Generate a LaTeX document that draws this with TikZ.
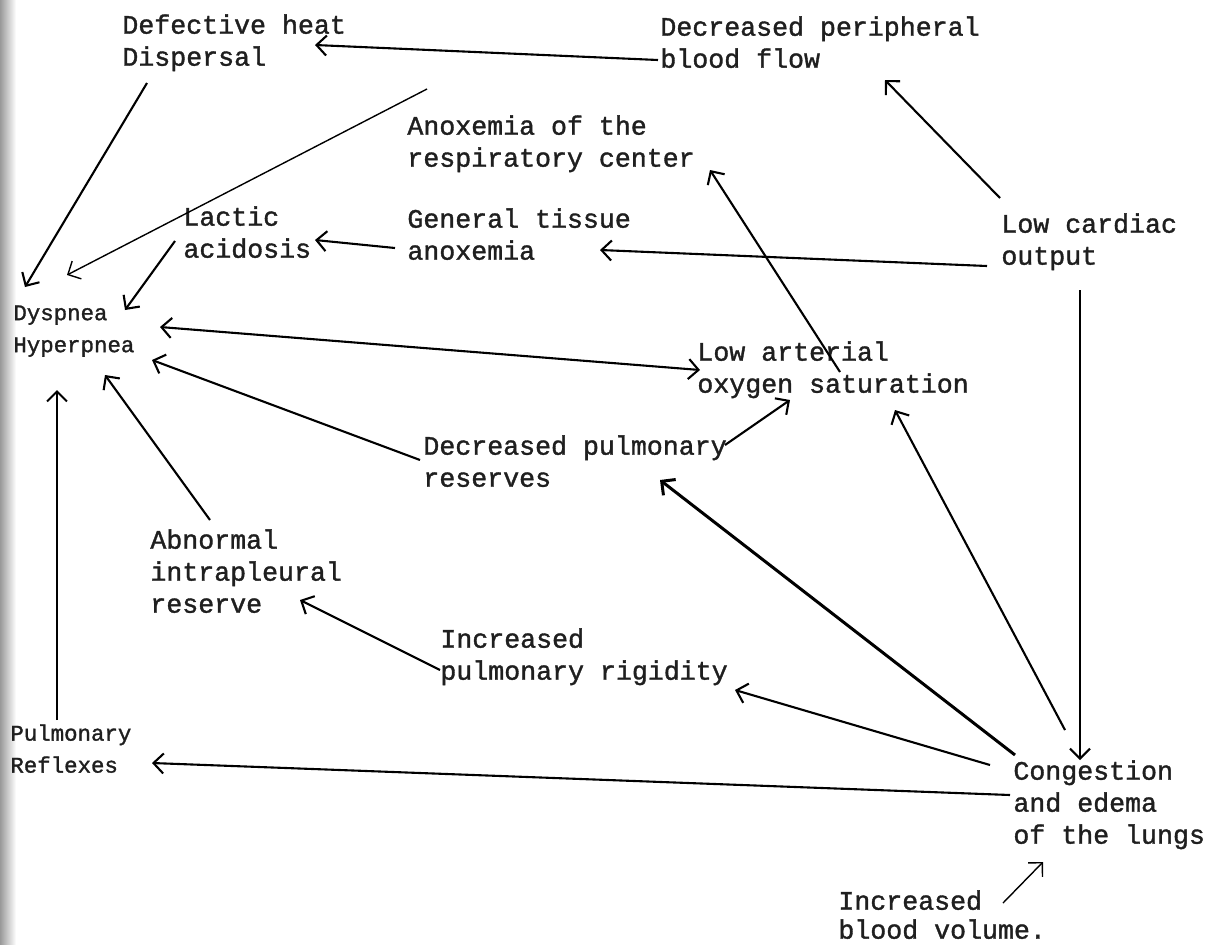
\documentclass[tikz,border=0pt]{standalone}
\usepackage{fontspec}
\setmonofont[FakeBold=1.3]{Liberation Mono}
\usetikzlibrary{arrows.meta,calc}
\begin{document}
\begin{tikzpicture}[x=0.5pt,y=-0.5pt,
  lbl/.style={anchor=north west,inner sep=0pt,align=left,font=\ttfamily\fontsize{13.3}{16}\selectfont,text=black!88},
  sml/.style={lbl,font=\ttfamily\fontsize{11.2}{16}\selectfont},
  arr/.style={-{Straight Barb[length=5pt,width=10pt]},line width=1.05pt},
  thin/.style={arr,line width=0.7pt},
  thick/.style={arr,line width=1.5pt}]
\fill[white] (0,0) rectangle (1216,944);
\useasboundingbox (0,0) rectangle (1216,944);
\shade[left color=black!40,right color=white] (0,0) rectangle (16,944);
% nodes
\node[lbl] (defect) at (122,14) {Defective heat\\Dispersal};
\node[lbl] (dpbf) at (660,16) {Decreased peripheral\\blood flow};
\node[lbl] (anox) at (407,115) {Anoxemia of the\\respiratory center};
\node[lbl] (lactic) at (183,206) {Lactic\\acidosis};
\node[lbl] (gta) at (407,208) {General tissue\\anoxemia};
\node[lbl] (lco) at (1001,213) {Low cardiac\\output};
\node[sml] (dys) at (13,305) {Dyspnea\\Hyperpnea};
\node[lbl] (lao) at (697,341) {Low arterial\\oxygen saturation};
\node[lbl] (dpr) at (423,435) {Decreased pulmonary\\reserves};
\node[lbl] (abn) at (150,529) {Abnormal\\intrapleural\\reserve};
\node[lbl] (ipr) at (440,628) {Increased\\pulmonary rigidity};
\node[sml] (pref) at (10,724) {Pulmonary\\Reflexes};
\node[lbl] (cong) at (1013,760) {Congestion\\and edema\\of the lungs};
\node[lbl,font=\ttfamily\fontsize{13.3}{14.5}\selectfont] (ibv) at (838,890) {Increased\\blood volume.};
% connectors
\draw[arr] ($(dpbf.north west)+(-2,44)$) -- ($(defect.north west)+(193,31)$);
\draw[arr] ($(defect.north west)+(25,69)$) -- ($(dys.north west)+(12,-18)$);
\draw[thin] ($(anox.north west)+(20,-26)$) -- ($(dys.north west)+(54,-30)$);
\draw[arr] ($(lactic.north west)+(-8,35)$) -- ($(dys.north west)+(112,5)$);
\draw[arr] ($(gta.north west)+(-12,40)$) -- ($(lactic.north west)+(132,34)$);
\draw[arr] ($(lco.north west)+(-14,53)$) -- ($(gta.north west)+(193,42)$);
\draw[arr] ($(lco.north west)+(-1,-15)$) -- ($(dpbf.north west)+(225,64)$);
\draw[arr] ($(lco.north west)+(79,77)$) -- ($(cong.north west)+(67,0)$);
\draw[arr,{Straight Barb[length=5pt,width=10pt]}-{Straight Barb[length=5pt,width=10pt]}] ($(dys.north west)+(147,22)$) -- ($(lao.north west)+(3,29)$);
\draw[arr] ($(lao.north west)+(143,31)$) -- ($(anox.north west)+(303,55)$);
\draw[arr] ($(dpr.north west)+(-3,25)$) -- ($(dys.north west)+(139,55)$);
\draw[arr] ($(dpr.north west)+(302,10)$) -- ($(lao.north west)+(93,59)$);
\draw[arr] ($(abn.north west)+(60,-9)$) -- ($(dys.north west)+(92,70)$);
\draw[arr] ($(pref.north west)+(47,-4)$) -- ($(dys.north west)+(44,85)$);
\draw[arr] ($(ipr.north west)+(0,42)$) -- ($(abn.north west)+(150,71)$);
\draw[arr] ($(cong.north west)+(-3,35)$) -- ($(pref.north west)+(142,39)$);
\draw[arr] ($(cong.north west)+(-23,5)$) -- ($(ipr.north west)+(295,62)$);
\draw[thick] ($(cong.north west)+(2,-5)$) -- ($(dpr.north west)+(237,45)$);
\draw[arr] ($(cong.north west)+(52,-30)$) -- ($(lao.north west)+(198,69)$);
\draw[thin] ($(ibv.north west)+(165,13)$) -- ($(cong.north west)+(30,102)$);
\end{tikzpicture}
\end{document}
